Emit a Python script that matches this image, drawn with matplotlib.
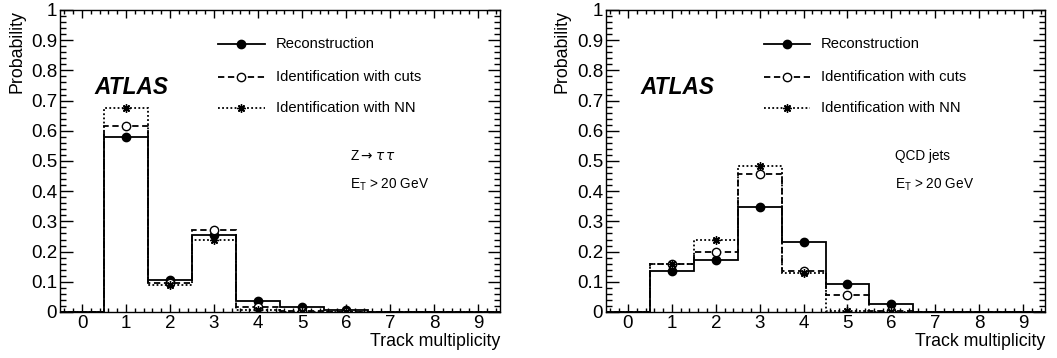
import numpy as np
from matplotlib import pyplot as plt
from matplotlib.ticker import MultipleLocator

plt.rcParams['font.family'] = ['Liberation Sans', 'DejaVu Sans']

bins = np.arange(10)
edges = np.arange(-0.5, 10.5, 1)

# Z -> tau tau
z_reco = [0, 0.580, 0.107, 0.255, 0.037, 0.018, 0.008, 0, 0, 0]
z_cuts = [0, 0.615, 0.097, 0.272, 0.016, 0.004, 0.001, 0, 0, 0]
z_nn = [0, 0.675, 0.088, 0.240, 0.005, 0.001, 0.000, 0, 0, 0]

# QCD jets
q_reco = [0, 0.135, 0.173, 0.348, 0.232, 0.093, 0.028, 0, 0, 0]
q_cuts = [0, 0.160, 0.200, 0.457, 0.135, 0.055, 0.004, 0, 0, 0]
q_nn = [0, 0.160, 0.237, 0.483, 0.128, 0.004, 0.000, 0, 0, 0]

labels = ['Reconstruction', 'Identification with cuts', 'Identification with NN']
styles = [
    dict(ls='-', marker='o', mfc='black'),
    dict(ls=(0, (3.5, 2)), marker='o', mfc='white'),
    dict(ls=(0, (1, 1.3)), marker=(8, 2, 0), mfc='black'),
]

fig = plt.figure(figsize=(10.57, 3.58), dpi=100)
ax1 = fig.add_axes([60 / 1057, 46 / 358, 440 / 1057, 302 / 358])
ax2 = fig.add_axes([606 / 1057, 46 / 358, 439 / 1057, 302 / 358])


def draw(ax, series, sample, ylab_off):
    for vals, st in zip(series, styles):
        ax.stairs(vals, edges, baseline=0, color='black', lw=1.3, ls=st['ls'])
        m = slice(1, 7)
        ax.plot(bins[m], np.array(vals)[m], ls='none', marker=st['marker'],
                mfc=st['mfc'], mec='black', mew=1.0, ms=6, color='black')

    # legend drawn by hand (ROOT style)
    for k, (lab, st) in enumerate(zip(labels, styles)):
        y = [0.887, 0.778, 0.675][k]
        ax.plot([3.1, 4.15], [y, y], color='black', lw=1.3, ls=st['ls'])
        ax.plot([3.62], [y], marker=st['marker'], mfc=st['mfc'], mec='black',
                mew=1.0, ms=6, ls='none')
        ax.text(4.4, y, lab, fontsize=10.6, va='center', ha='left')

    ax.text(0.28, 0.742, 'ATLAS', fontsize=16.3, fontweight='bold',
            fontstyle='italic', va='center', ha='left')
    ax.text(6.08, 0.517, sample, fontsize=9.8, va='center', ha='left')
    ax.text(6.08, 0.42, r'E$_\mathregular{T}$ > 20 GeV', fontsize=9.8,
            va='center', ha='left')

    ax.set_xlim(-0.5, 9.5)
    ax.set_ylim(0, 1)
    ax.xaxis.set_major_locator(MultipleLocator(1))
    ax.xaxis.set_minor_locator(MultipleLocator(0.2))
    ax.yaxis.set_major_locator(MultipleLocator(0.1))
    ax.yaxis.set_minor_locator(MultipleLocator(0.02))
    ax.set_yticks(np.arange(0, 1.01, 0.1))
    ax.set_yticklabels(['0', '0.1', '0.2', '0.3', '0.4', '0.5', '0.6',
                        '0.7', '0.8', '0.9', '1'])
    ax.tick_params(which='both', direction='in', top=True, right=True,
                   labelsize=13.5, width=1.0)
    ax.tick_params(axis='x', which='major', length=6, pad=2)
    ax.tick_params(axis='x', which='minor', length=3)
    ax.tick_params(axis='y', which='major', length=9, pad=2)
    ax.tick_params(axis='y', which='minor', length=4.5)
    for s in ax.spines.values():
        s.set_linewidth(1.0)

    ax.set_ylabel('Probability', fontsize=12.8, loc='top')
    ax.yaxis.set_label_coords(-ylab_off / 440, 1.0)
    ax.yaxis.label.set_va('center')
    ax.set_xlabel('Track multiplicity', fontsize=12.8, loc='right')
    ax.xaxis.set_label_coords(1.0, -30 / 302)
    ax.xaxis.label.set_va('center')


draw(ax1, [z_reco, z_cuts, z_nn], r'Z$\rightarrow\tau\,\tau$', 43)
draw(ax2, [q_reco, q_cuts, q_nn], 'QCD jets', 44)

fig.savefig('out.png', dpi=100)
